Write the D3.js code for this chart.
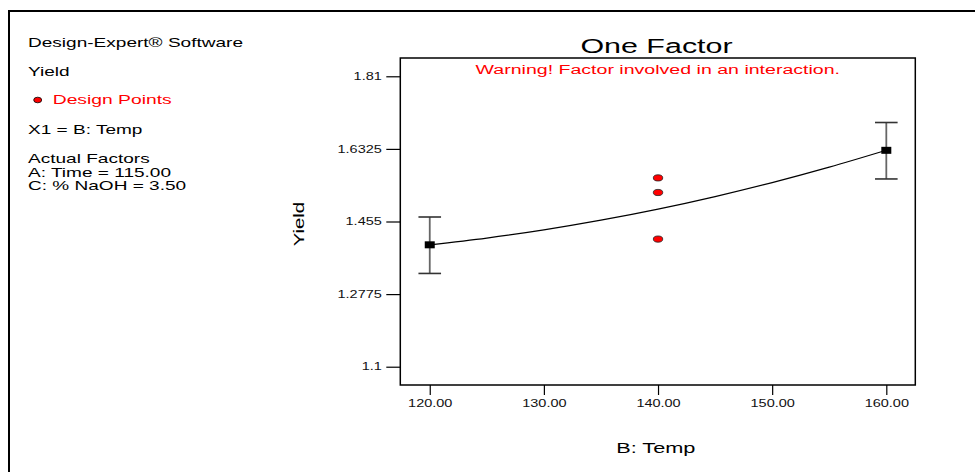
<!DOCTYPE html>
<html>
<head>
<meta charset="utf-8">
<script src="https://cdn.jsdelivr.net/npm/d3@7"></script>
<style>
  html, body { margin: 0; padding: 0; background: #fff; }
  svg { display: block; font-family: "Liberation Sans", Arial, sans-serif; }
</style>
</head>
<body>
<svg id="chart" width="975" height="472"></svg>
<script>
// ---- data ----
const xTicks = [120, 130, 140, 150, 160];
const xTickLabels = ["120.00", "130.00", "140.00", "150.00", "160.00"];
const yTicks = [1.1, 1.2775, 1.455, 1.6325, 1.81];
const yTickLabels = ["1.1", "1.2775", "1.455", "1.6325", "1.81"];

// predicted yield along the temperature range
const curveTemp  = [120, 125, 130, 135, 140, 145, 150, 155, 160];
const curveYield = [1.398, 1.4145, 1.4346, 1.4582, 1.4853, 1.516, 1.5502, 1.588, 1.6293];

// predicted means with LSD bars at the factor ends
const barTemp = [120, 160];
const barMean = [1.398, 1.629];
const barLow  = [1.328, 1.559];
const barHigh = [1.466, 1.697];

// design points
const pointTemp  = [140, 140, 140];
const pointYield = [1.5616, 1.5259, 1.412];

const infoLines = [
  { text: "Design-Expert\u00AE Software", y: 46.5 },
  { text: "Yield", y: 76 },
  { text: "X1 = B: Temp", y: 133.5 },
  { text: "Actual Factors", y: 162.5 },
  { text: "A: Time = 115.00", y: 176.5 },
  { text: "C: % NaOH = 3.50", y: 190 }
];

// ---- layout ----
const S = 1.45; // horizontal glyph stretch
const svg = d3.select("#chart");
const plot = { left: 400.3, top: 58, right: 915.3, bottom: 385 };

const x = d3.scaleLinear().domain([117.42, 162.54]).range([plot.left, plot.right]);
const y = d3.scaleLinear().domain([1.0553, 1.8547]).range([plot.bottom, plot.top]);

function stretchedText(parent, tx, ty, str, opts = {}) {
  return parent.append("text")
    .attr("transform", `translate(${tx},${ty})${opts.rotate ? ` rotate(${opts.rotate})` : ""} scale(${opts.s || S},1)`)
    .attr("text-anchor", opts.anchor || "start")
    .attr("font-size", opts.size || 13.5)
    .attr("fill", opts.fill || "#000")
    .text(str);
}

// outer frame
svg.append("path")
  .attr("d", "M9,472V11H975")
  .attr("fill", "none")
  .attr("stroke", "#000")
  .attr("stroke-width", 2);

// info panel
infoLines.forEach(l => stretchedText(svg, 28, l.y, l.text, { s: 1.41 }));
svg.append("ellipse")
  .attr("cx", 37.7).attr("cy", 100)
  .attr("rx", 4).attr("ry", 2.8)
  .attr("fill", "#ff0000").attr("stroke", "#000").attr("stroke-width", 0.8);
stretchedText(svg, 52.7, 104.3, "Design Points", { fill: "#ff0000", s: 1.43 });

// title and warning
stretchedText(svg, 656.5, 53.3, "One Factor", { anchor: "middle", size: 21 });
stretchedText(svg, 657.8, 74, "Warning! Factor involved in an interaction.", { anchor: "middle", size: 13.5, fill: "#ff0000" });

// axes
const yAxis = d3.axisLeft(y)
  .tickValues(yTicks)
  .tickFormat((d, i) => yTickLabels[i])
  .tickSize(14).tickPadding(4.5);
const gy = svg.append("g").attr("transform", `translate(${plot.left},0)`).call(yAxis);

const xAxis = d3.axisBottom(x)
  .tickValues(xTicks)
  .tickFormat((d, i) => xTickLabels[i])
  .tickSize(10).tickPadding(5);
const gx = svg.append("g").attr("transform", `translate(0,${plot.bottom})`).call(xAxis);

[gx, gy].forEach(g => {
  g.select(".domain").remove();
  g.selectAll(".tick line").attr("stroke", "#000").attr("stroke-width", 1.2);
  g.selectAll(".tick text")
    .attr("font-size", 10)
    .attr("font-family", "Liberation Sans, Arial, sans-serif")
    .attr("fill", "#111")
    .each(function () {
      const t = d3.select(this);
      const tx = +t.attr("x") || 0;
      t.attr("x", tx / S).attr("transform", `scale(${S},1)`);
    });
});

// plot box
svg.append("rect")
  .attr("x", plot.left).attr("y", plot.top)
  .attr("width", plot.right - plot.left).attr("height", plot.bottom - plot.top)
  .attr("fill", "none").attr("stroke", "#000").attr("stroke-width", 1.5);

// axis titles
stretchedText(svg, 655.8, 453, "B: Temp", { anchor: "middle", size: 14.5, s: 1.5 });
stretchedText(svg, 304, 224.2, "Yield", { anchor: "middle", size: 14, rotate: -90 });

// fitted curve
const line = d3.line()
  .x((d, i) => x(curveTemp[i]))
  .y(d => y(d))
  .curve(d3.curveMonotoneX);
svg.append("path")
  .datum(curveYield)
  .attr("d", line)
  .attr("fill", "none")
  .attr("stroke", "#000")
  .attr("stroke-width", 1.2);

// error bars
const bars = svg.append("g");
barTemp.forEach((t, i) => {
  const cx = x(t);
  bars.append("line")
    .attr("x1", cx).attr("x2", cx)
    .attr("y1", y(barLow[i])).attr("y2", y(barHigh[i]))
    .attr("stroke", "#666").attr("stroke-width", 1.8);
  [barLow[i], barHigh[i]].forEach(v => {
    bars.append("line")
      .attr("x1", cx - 11.3).attr("x2", cx + 11.3)
      .attr("y1", y(v)).attr("y2", y(v))
      .attr("stroke", "#333").attr("stroke-width", 1.6);
  });
  bars.append("rect")
    .attr("x", cx - 5).attr("y", y(barMean[i]) - 3.5)
    .attr("width", 10).attr("height", 7)
    .attr("fill", "#000");
});

// design points
svg.append("g").selectAll("ellipse")
  .data(pointYield)
  .join("ellipse")
  .attr("cx", (d, i) => x(pointTemp[i]))
  .attr("cy", d => y(d))
  .attr("rx", 4.7).attr("ry", 3.1)
  .attr("fill", "#ff0000")
  .attr("stroke", "#222")
  .attr("stroke-width", 0.8);
</script>
</body>
</html>
